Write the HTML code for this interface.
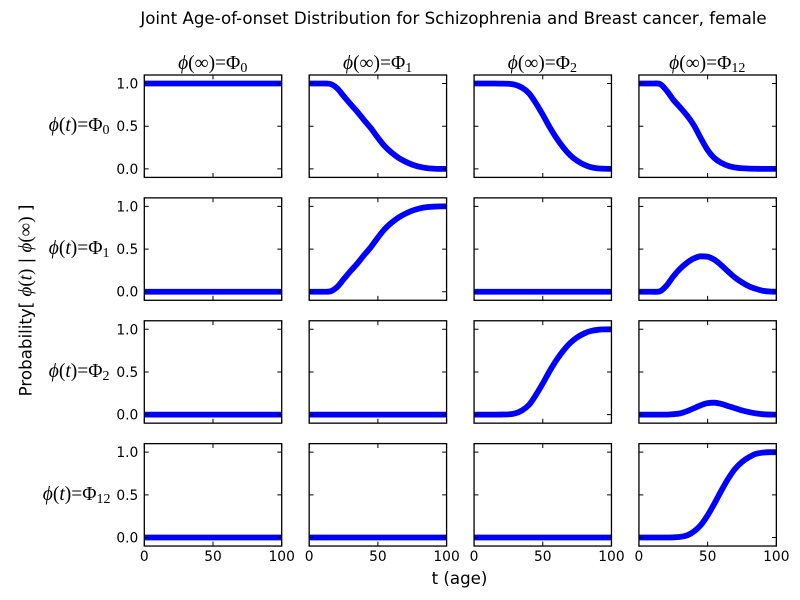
<!DOCTYPE html>
<html lang="en">
<head>
<meta charset="utf-8">
<title>Joint Age-of-onset Distribution</title>
<style>
html,body{margin:0;padding:0;background:#fff;width:800px;height:600px;overflow:hidden}
svg{display:block}
text{font-family:"DejaVu Sans","Liberation Sans",sans-serif;fill:#000}
.m{font-family:"Liberation Serif","DejaVu Serif",serif;font-size:19.5px}
.i{font-style:italic}
.s{font-size:14px}
</style>
</head>
<body>
<svg id="chart" xmlns="http://www.w3.org/2000/svg" width="800" height="600" viewBox="0 0 800 600">
<rect x="0" y="0" width="800" height="600" fill="#fff"/>
<g id="panels"></g>
<text x="453.5" y="24" text-anchor="middle" font-size="16.67">Joint Age-of-onset Distribution for Schizophrenia and Breast cancer, female</text>

<text class="m" x="212.7" y="69" text-anchor="middle"><tspan class="i">ϕ</tspan>(∞)=Φ<tspan class="s" dy="3">0</tspan></text>
<text class="m" x="377.6" y="69" text-anchor="middle"><tspan class="i">ϕ</tspan>(∞)=Φ<tspan class="s" dy="3">1</tspan></text>
<text class="m" x="542.4" y="69" text-anchor="middle"><tspan class="i">ϕ</tspan>(∞)=Φ<tspan class="s" dy="3">2</tspan></text>
<text class="m" x="707.3" y="69" text-anchor="middle"><tspan class="i">ϕ</tspan>(∞)=Φ<tspan class="s" dy="3">12</tspan></text>

<text class="m" x="109.5" y="131" text-anchor="end"><tspan class="i">ϕ</tspan>(<tspan class="i">t</tspan>)=Φ<tspan class="s" dy="3">0</tspan></text>
<text class="m" x="109.5" y="254" text-anchor="end"><tspan class="i">ϕ</tspan>(<tspan class="i">t</tspan>)=Φ<tspan class="s" dy="3">1</tspan></text>
<text class="m" x="109.5" y="377" text-anchor="end"><tspan class="i">ϕ</tspan>(<tspan class="i">t</tspan>)=Φ<tspan class="s" dy="3">2</tspan></text>
<text class="m" x="110.5" y="500" text-anchor="end"><tspan class="i">ϕ</tspan>(<tspan class="i">t</tspan>)=Φ<tspan class="s" dy="3">12</tspan></text>

<text transform="translate(31.5,300.5) rotate(-90)" text-anchor="middle" font-size="16.67">Probability[ <tspan style="font-family:'Liberation Serif','DejaVu Serif',serif;font-size:19px"><tspan class="i">ϕ</tspan>(<tspan class="i">t</tspan>)</tspan> | <tspan style="font-family:'Liberation Serif','DejaVu Serif',serif;font-size:19px"><tspan class="i">ϕ</tspan>(∞)</tspan> ]</text>
<text x="459.5" y="584" text-anchor="middle" font-size="16.67">t (age)</text>
</svg>
<script>
const ages = [0,5,10,15,20,25,30,35,40,45,50,55,60,65,70,75,80,85,90,95,100];
const allOne = [1,1,1,1,1,1,1,1,1,1,1,1,1,1,1,1,1,1,1,1,1];
const allZero = [0,0,0,0,0,0,0,0,0,0,0,0,0,0,0,0,0,0,0,0,0];
const phi0ToPhi1 = [1,1,1,0.997,0.95,0.855,0.76,0.67,0.57,0.475,0.365,0.265,0.19,0.13,0.085,0.05,0.025,0.01,0.003,0,0];
const phi1ToPhi1 = [0,0,0,0.003,0.05,0.145,0.24,0.33,0.43,0.525,0.635,0.735,0.81,0.87,0.915,0.95,0.975,0.99,0.997,1,1];
const phi0ToPhi2 = [1,1,1,1,0.999,0.997,0.985,0.95,0.885,0.77,0.635,0.49,0.36,0.25,0.16,0.095,0.05,0.02,0.006,0.001,0];
const phi2ToPhi2 = [0,0,0,0,0.001,0.003,0.015,0.05,0.115,0.23,0.365,0.51,0.64,0.75,0.84,0.905,0.95,0.98,0.994,0.999,1];
const phi0ToPhi12 = [1,1,1,0.997,0.92,0.81,0.72,0.625,0.51,0.36,0.22,0.125,0.07,0.035,0.016,0.007,0.003,0.001,0,0,0];
const phi1ToPhi12 = [0,0,0,0.003,0.07,0.18,0.27,0.34,0.39,0.415,0.41,0.375,0.31,0.235,0.165,0.11,0.065,0.035,0.012,0.003,0];
const phi2ToPhi12 = [0,0,0,0,0,0.005,0.015,0.04,0.075,0.11,0.135,0.14,0.125,0.1,0.075,0.05,0.03,0.015,0.005,0.001,0];
const phi12ToPhi12 = [0,0,0,0,0,0.002,0.007,0.025,0.07,0.145,0.26,0.4,0.55,0.69,0.805,0.885,0.94,0.98,0.995,1,1];
const cellSeries = [
  [allOne, phi0ToPhi1, phi0ToPhi2, phi0ToPhi12],
  [allZero, phi1ToPhi1, allZero, phi1ToPhi12],
  [allZero, allZero, phi2ToPhi2, phi2ToPhi12],
  [allZero, allZero, allZero, phi12ToPhi12]
];
const xTicks = [0,50,100];
const yTicks = [0,0.5,1];
const yTickLabels = ['0.0','0.5','1.0'];
const xDomain = [0,100];
const yDomain = [-0.1,1.1];

const NS = 'http://www.w3.org/2000/svg';
const LEFT = 144.3, TOP = 75, W = 137.4, H = 102.4, GX = 27.48, GY = 20.48;
const panels = document.getElementById('panels');
function make(parent, tag, attrs, text){
  const n = document.createElementNS(NS, tag);
  for (const k in attrs) n.setAttribute(k, attrs[k]);
  if (text !== undefined) n.textContent = text;
  parent.appendChild(n);
  return n;
}
/* smooth monotone curve through the scaled data points */
function smoothPath(xs, ys){
  const n = xs.length, d = [], m = [];
  for (let i = 0; i < n - 1; i++) d.push((ys[i + 1] - ys[i]) / (xs[i + 1] - xs[i]));
  m.push(d[0]);
  for (let i = 1; i < n - 1; i++) {
    m.push(d[i - 1] * d[i] <= 0 ? 0 : (d[i - 1] + d[i]) / 2 * 0.5 + (2 * d[i - 1] * d[i] / (d[i - 1] + d[i])) * 0.5);
  }
  m.push(d[n - 2]);
  let p = 'M' + xs[0].toFixed(2) + ' ' + ys[0].toFixed(2);
  for (let i = 0; i < n - 1; i++) {
    const h = (xs[i + 1] - xs[i]) / 3;
    p += 'C' + (xs[i] + h).toFixed(2) + ' ' + (ys[i] + m[i] * h).toFixed(2) + ' ' +
         (xs[i + 1] - h).toFixed(2) + ' ' + (ys[i + 1] - m[i + 1] * h).toFixed(2) + ' ' +
         xs[i + 1].toFixed(2) + ' ' + ys[i + 1].toFixed(2);
  }
  return p;
}
cellSeries.forEach(function(rowSeries, r){
  rowSeries.forEach(function(values, c){
    const x0 = LEFT + c * (W + GX), y0 = TOP + r * (H + GY);
    const sx = function(v){ return x0 + (v - xDomain[0]) / (xDomain[1] - xDomain[0]) * W; };
    const sy = function(v){ return y0 + H - (v - yDomain[0]) / (yDomain[1] - yDomain[0]) * H; };
    const id = 'r' + r + 'c' + c;
    const g = make(panels, 'g', {});
    
    
    const bg = make(g, 'rect', {x:x0, y:y0, width:W, height:H, fill:'#fff'});
    
    
    const cp = make(g, 'clipPath', {id:'clip-' + id});
    make(cp, 'rect', {x:x0, y:y0, width:W, height:H});
    const line = make(g, 'path', {d:smoothPath(ages.map(sx), values.map(sy)), fill:'none', stroke:'#0000ff', 'stroke-width':5.8, 'stroke-linejoin':'round', 'clip-path':'url(#clip-' + id + ')'});
    
    
    xTicks.forEach(function(t){
      const px = sx(t);
      const tick = make(g, 'path', {d:'M' + px + ' ' + y0 + 'v4.4M' + px + ' ' + (y0 + H) + 'v-4.4', stroke:'#000', 'stroke-width':1, fill:'none'});
      
      
      if (r === cellSeries.length - 1) {
        const lab = make(g, 'text', {x:px, y:y0 + H + 15, 'text-anchor':'middle', 'font-size':13.8}, String(t));
        
        
      }
    });
    yTicks.forEach(function(t, i){
      const py = sy(t);
      const tick = make(g, 'path', {d:'M' + x0 + ' ' + py + 'h4.4M' + (x0 + W) + ' ' + py + 'h-4.4', stroke:'#000', 'stroke-width':1, fill:'none'});
      
      
      if (c === 0) {
        const lab = make(g, 'text', {x:x0 - 6, y:py + 5, 'text-anchor':'end', 'font-size':13.8}, yTickLabels[i]);
        
        
      }
    });
    const frame = make(g, 'rect', {x:x0, y:y0, width:W, height:H, fill:'none', stroke:'#000', 'stroke-width':1.3});
    
    
  });
});
</script>
</body>
</html>
